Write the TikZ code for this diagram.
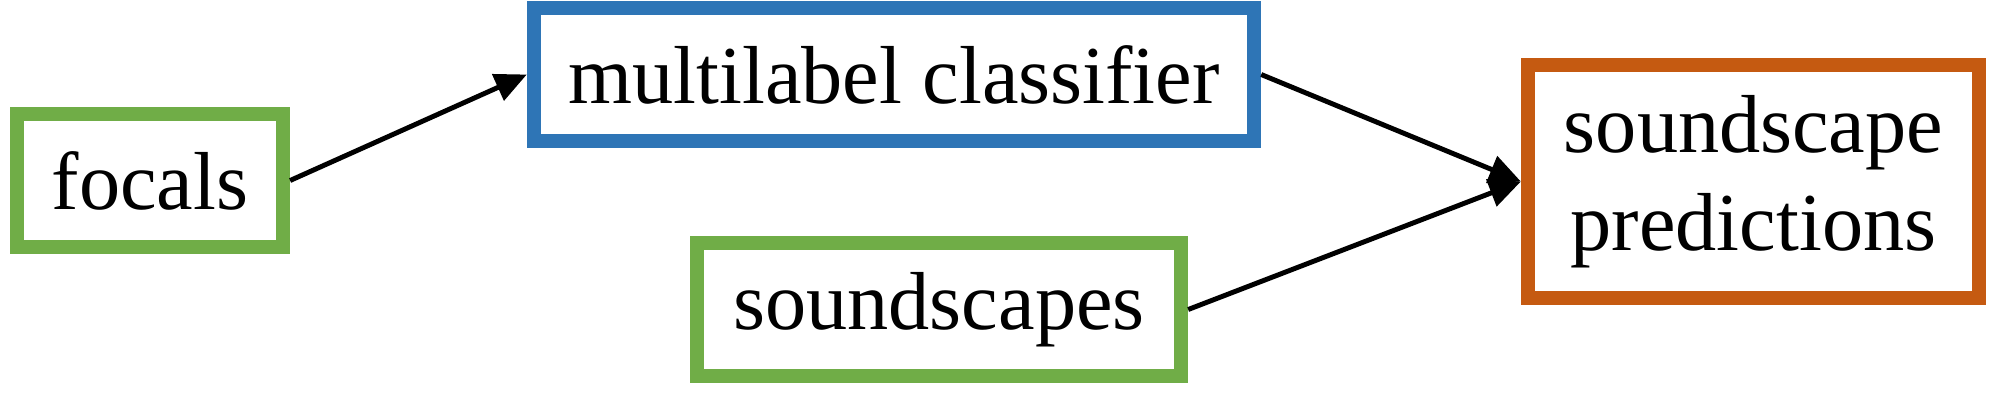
\documentclass[tikz,border=0pt]{standalone}
\usepackage{fontspec}
\setmainfont{Liberation Serif}
\usetikzlibrary{arrows.meta}
\definecolor{cgreen}{RGB}{112,173,71}
\definecolor{cblue}{RGB}{46,117,182}
\definecolor{corange}{RGB}{197,90,17}
\begin{document}
\begin{tikzpicture}[x=0.01cm,y=-0.01cm,
  box/.style={draw,line width=4pt,inner sep=0pt,align=center,
    font=\fontsize{23.4}{27.9}\selectfont},
  conn/.style={line width=1.4pt,-{Triangle[length=9pt,width=8pt]}}]
\useasboundingbox (0,0) rectangle (1992,408);
\node[box,draw=cgreen,minimum width=266*0.2845pt,minimum height=133*0.2845pt] (focals) at (150,180.5) {focals};
\node[box,draw=cblue,minimum width=720*0.2845pt,minimum height=133*0.2845pt] (ml) at (894,74.5) {multilabel classifier};
\node[box,draw=cgreen,minimum width=484*0.2845pt,minimum height=133*0.2845pt] (sc) at (939,309.5) {soundscapes};
\node[box,draw=corange,minimum width=451*0.2845pt,minimum height=233*0.2845pt] (pred) at (1753.5,181.5) {soundscape\\predictions};
\draw[conn] (focals.east) -- (ml.west);
\draw[conn] (ml.east) -- (pred.west);
\draw[conn] (sc.east) -- (pred.west);
\end{tikzpicture}
\end{document}
